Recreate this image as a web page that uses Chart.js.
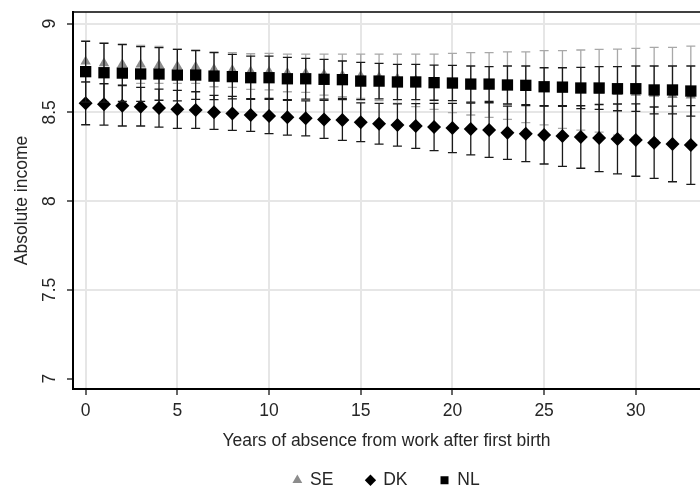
<!DOCTYPE html>
<html>
<head>
<meta charset="utf-8">
<title>Absolute income by years of absence</title>
<script src="https://cdn.jsdelivr.net/npm/chart.js@4.4.0/dist/chart.umd.min.js"></script>
<style>
  html, body { margin: 0; padding: 0; background: #fff; }
</style>
</head>
<body>
<canvas id="incomeChart" width="700" height="492"></canvas>
<script>
// Years of absence (x) and tick labels
const years = [0, 1, 2, 3, 4, 5, 6, 7, 8, 9, 10, 11, 12, 13, 14, 15, 16, 17,
  18, 19, 20, 21, 22, 23, 24, 25, 26, 27, 28, 29, 30, 31, 32, 33];
const xTicks = [0, 5, 10, 15, 20, 25, 30];
const yTicks = [7, 7.5, 8, 8.5, 9];
const seriesNames = ["SE", "DK", "NL"];

// SE - estimate and confidence interval
const seMean = [8.786, 8.776, 8.771, 8.770, 8.767, 8.760, 8.757, 8.743, 8.739, 8.730,
  8.729, 8.722, 8.720, 8.713, 8.708, 8.704, 8.697, 8.690, 8.680, 8.673,
  8.665, 8.661, 8.654, 8.650, 8.641, 8.638, 8.629, 8.626, 8.622, 8.614,
  8.610, 8.605, 8.598, 8.595];
const seLow = [8.669, 8.659, 8.656, 8.663, 8.663, 8.663, 8.663, 8.644, 8.641, 8.629,
  8.626, 8.616, 8.612, 8.597, 8.588, 8.579, 8.566, 8.551, 8.532, 8.517,
  8.498, 8.485, 8.472, 8.460, 8.442, 8.429, 8.410, 8.400, 8.389, 8.372,
  8.359, 8.344, 8.329, 8.316];
const seHigh = [8.903, 8.892, 8.885, 8.877, 8.871, 8.856, 8.851, 8.841, 8.836, 8.830,
  8.832, 8.828, 8.828, 8.828, 8.828, 8.828, 8.828, 8.828, 8.828, 8.828,
  8.832, 8.836, 8.836, 8.840, 8.840, 8.847, 8.847, 8.851, 8.855, 8.856,
  8.860, 8.866, 8.866, 8.873];

// DK
const dkMean = [8.551, 8.545, 8.537, 8.532, 8.524, 8.517, 8.513, 8.500, 8.494, 8.485,
  8.479, 8.472, 8.466, 8.460, 8.457, 8.444, 8.436, 8.429, 8.423, 8.417,
  8.412, 8.406, 8.400, 8.385, 8.380, 8.372, 8.367, 8.361, 8.355, 8.350,
  8.344, 8.329, 8.322, 8.316];
const dkLow = [8.430, 8.428, 8.423, 8.423, 8.417, 8.410, 8.410, 8.404, 8.398, 8.393,
  8.380, 8.372, 8.367, 8.353, 8.342, 8.335, 8.321, 8.310, 8.297, 8.284,
  8.273, 8.260, 8.246, 8.235, 8.222, 8.209, 8.196, 8.185, 8.166, 8.153,
  8.140, 8.128, 8.109, 8.094];
const dkHigh = [8.672, 8.662, 8.651, 8.641, 8.631, 8.624, 8.616, 8.596, 8.590, 8.577,
  8.578, 8.572, 8.565, 8.567, 8.572, 8.553, 8.551, 8.548, 8.549, 8.550,
  8.551, 8.552, 8.554, 8.535, 8.538, 8.535, 8.538, 8.537, 8.544, 8.547,
  8.548, 8.530, 8.535, 8.538];

// NL
const nlMean = [8.729, 8.723, 8.721, 8.716, 8.716, 8.710, 8.710, 8.704, 8.701, 8.695,
  8.695, 8.689, 8.689, 8.686, 8.684, 8.676, 8.676, 8.671, 8.671, 8.667,
  8.665, 8.659, 8.659, 8.654, 8.652, 8.644, 8.642, 8.637, 8.637, 8.633,
  8.633, 8.626, 8.626, 8.620];
const nlLow = [8.558, 8.558, 8.561, 8.562, 8.568, 8.565, 8.573, 8.572, 8.576, 8.573,
  8.573, 8.568, 8.574, 8.574, 8.579, 8.571, 8.576, 8.572, 8.572, 8.568,
  8.566, 8.557, 8.561, 8.547, 8.543, 8.537, 8.533, 8.521, 8.517, 8.509,
  8.505, 8.491, 8.491, 8.479];
const nlHigh = [8.900, 8.888, 8.881, 8.870, 8.864, 8.855, 8.847, 8.836, 8.826, 8.817,
  8.817, 8.810, 8.804, 8.798, 8.789, 8.781, 8.776, 8.770, 8.770, 8.766,
  8.764, 8.761, 8.757, 8.761, 8.761, 8.751, 8.751, 8.753, 8.757, 8.757,
  8.761, 8.761, 8.761, 8.761];

const FONT = '"Liberation Sans", Arial, sans-serif';
const FONT_SIZE = 17.5;
const TEXT = "#262626";
const GRID = "#e6e6e6";

// point objects with the interval kept on each point
function toPoints(mean, low, high) {
  return years.map((x, i) => ({ x: x, y: mean[i], lo: low[i], hi: high[i] }));
}

// error bars, drawn just before each dataset's markers
const errorBars = {
  id: "errorBars",
  beforeDatasetDraw(chart, args) {
    const ds = chart.data.datasets[args.index];
    const xs = chart.scales.x;
    const ys = chart.scales.y;
    const ctx = chart.ctx;
    ctx.save();
    ctx.strokeStyle = ds.barColor;
    ctx.lineWidth = 1.3;
    ds.data.forEach((p) => {
      const px = xs.getPixelForValue(p.x);
      const top = ys.getPixelForValue(p.hi);
      const bot = ys.getPixelForValue(p.lo);
      ctx.beginPath();
      ctx.moveTo(px, top);
      ctx.lineTo(px, bot);
      ctx.moveTo(px - 4.5, top);
      ctx.lineTo(px + 4.5, top);
      ctx.moveTo(px - 4.5, bot);
      ctx.lineTo(px + 4.5, bot);
      ctx.stroke();
    });
    ctx.restore();
  },
};

// top frame line and the rotated y tick labels
const frame = {
  id: "frame",
  afterDraw(chart) {
    const ctx = chart.ctx;
    const area = chart.chartArea;
    const ys = chart.scales.y;
    ctx.save();
    ctx.strokeStyle = "#000";
    ctx.lineWidth = 1.5;
    ctx.beginPath();
    ctx.moveTo(area.left, area.top);
    ctx.lineTo(area.right, area.top);
    ctx.stroke();
    ctx.fillStyle = TEXT;
    ctx.font = FONT_SIZE + "px " + FONT;
    ctx.textAlign = "center";
    ctx.textBaseline = "middle";
    yTicks.forEach((v) => {
      ctx.save();
      ctx.translate(50, ys.getPixelForValue(v));
      ctx.rotate(-Math.PI / 2);
      ctx.fillText(String(v), 0, 0);
      ctx.restore();
    });
    ctx.restore();
  },
};

function loadChart() {
  const ctx = document.getElementById("incomeChart").getContext("2d");
  Chart.defaults.font.family = FONT;
  Chart.defaults.font.size = FONT_SIZE;
  Chart.defaults.color = TEXT;

  new Chart(ctx, {
    type: "scatter",
    data: {
      datasets: [
        {
          label: seriesNames[0],
          data: toPoints(seMean, seLow, seHigh),
          pointStyle: "triangle",
          pointRadius: 6,
          backgroundColor: "#8c8c8c",
          borderColor: "#8c8c8c",
          borderWidth: 0,
          barColor: "#a8a8a8",
          order: 3,
        },
        {
          label: seriesNames[1],
          data: toPoints(dkMean, dkLow, dkHigh),
          pointStyle: "rectRot",
          pointRadius: 7,
          backgroundColor: "#000",
          borderColor: "#000",
          borderWidth: 0,
          barColor: "#1a1a1a",
          order: 2,
        },
        {
          label: seriesNames[2],
          data: toPoints(nlMean, nlLow, nlHigh),
          pointStyle: "rect",
          pointRadius: 8,
          backgroundColor: "#000",
          borderColor: "#000",
          borderWidth: 0,
          barColor: "#1a1a1a",
          order: 1,
        },
      ],
    },
    options: {
      responsive: false,
      animation: false,
      devicePixelRatio: 1,
      layout: {
        autoPadding: false,
        padding: { top: 12, right: 0, bottom: -7, left: 0 },
      },
      plugins: {
        tooltip: { enabled: false },
        legend: {
          position: "bottom",
          fullSize: false,
          labels: {
            usePointStyle: true,
            boxWidth: 8,
            boxHeight: 8,
            padding: 33,
            color: TEXT,
            font: { size: FONT_SIZE },
            sort: (a, b) => a.datasetIndex - b.datasetIndex,
          },
        },
      },
      scales: {
        x: {
          type: "linear",
          min: -0.69,
          max: 33.5,
          afterBuildTicks: (s) => {
            s.ticks = xTicks.map((v) => ({ value: v }));
          },
          afterFit: (s) => {
            s.height = 49.5;
            s.paddingLeft = 0;
            s.paddingRight = 0;
          },
          border: { color: "#000", width: 2 },
          grid: {
            color: GRID,
            lineWidth: 2,
            tickColor: "#333",
            tickLength: 6,
            tickWidth: 1.5,
          },
          ticks: { color: TEXT, padding: 5.5, maxRotation: 0 },
          title: {
            display: true,
            text: "Years of absence from work after first birth",
            color: TEXT,
            font: { size: FONT_SIZE },
            padding: { top: 0, bottom: -13 },
          },
        },
        y: {
          type: "linear",
          min: 6.942,
          max: 9.065,
          afterBuildTicks: (s) => {
            s.ticks = yTicks.map((v) => ({ value: v }));
          },
          afterFit: (s) => {
            s.width = 73;
          },
          border: { color: "#000", width: 2 },
          grid: {
            color: (c) => (c.tick && c.tick.value === 7 ? "rgba(0,0,0,0)" : GRID),
            lineWidth: 2,
            tickColor: "#333",
            tickLength: 6,
            tickWidth: 1.5,
          },
          ticks: { display: false },
          title: {
            display: true,
            text: "Absolute income",
            color: TEXT,
            font: { size: FONT_SIZE },
            padding: { top: 11.5, bottom: 0 },
          },
        },
      },
    },
    plugins: [errorBars, frame],
  });
}

document.addEventListener("DOMContentLoaded", loadChart);
</script>
</body>
</html>
